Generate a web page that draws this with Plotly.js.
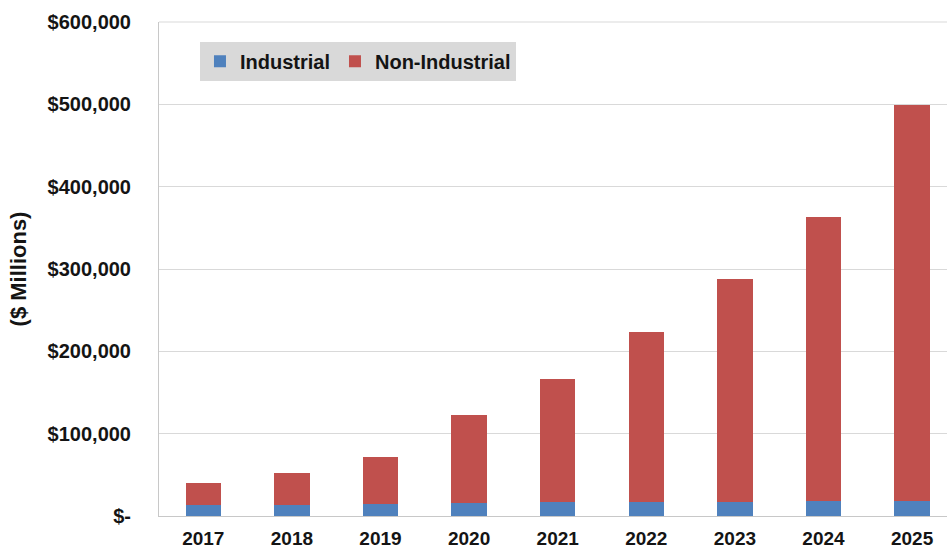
<!DOCTYPE html>
<html>
<head>
<meta charset="utf-8">
<script src="https://cdn.plot.ly/plotly-3.0.1.min.js"></script>
<style>html,body{margin:0;padding:0;background:#fff;}#chart{width:947px;height:551px;}</style>
</head>
<body>
<div id="chart"></div>
<script>
const years = ['2017','2018','2019','2020','2021','2022','2023','2024','2025'];
const industrial = [13500, 13500, 14000, 15500, 16500, 17000, 17500, 18000, 18500];
const nonIndustrial = [26000, 39000, 58000, 107000, 149500, 206000, 270500, 345000, 480500];
const yTickVals = [0, 100000, 200000, 300000, 400000, 500000, 600000];
const yTickText = ['$-', '$100,000', '$200,000', '$300,000', '$400,000', '$500,000', '$600,000'];

const fam = 'Liberation Sans, Arial, sans-serif';
const txt = '#141414';

const data = [
  {type: 'bar', name: 'Industrial', x: years, y: industrial, marker: {color: '#4f81bd'}},
  {type: 'bar', name: 'Non-Industrial', x: years, y: nonIndustrial, marker: {color: '#c0504d'}}
];

const layout = {
  width: 947, height: 551,
  margin: {l: 159, r: 0, t: 22, b: 35},
  barmode: 'stack',
  bargap: 0.6,
  paper_bgcolor: '#fff',
  plot_bgcolor: '#fff',
  font: {family: fam, color: txt},
  showlegend: true,
  legend: {
    orientation: 'h',
    x: 0.052, y: 0.96, xanchor: 'left', yanchor: 'top',
    bgcolor: '#d9d9d9',
    font: {family: fam, size: 20, color: txt, weight: 'bold'},
    itemwidth: 30,
    traceorder: 'normal'
  },
  xaxis: {
    type: 'category',
    range: [-0.5, 8.394],
    showline: true, linecolor: '#c8c8c8', linewidth: 1,
    showgrid: false,
    ticks: '',
    ticklabelstandoff: 5,
    tickfont: {family: fam, size: 19, color: txt, weight: 'bold'},
    fixedrange: true
  },
  yaxis: {
    range: [0, 600000],
    tickvals: yTickVals,
    ticktext: yTickText,
    showline: true, linecolor: '#c8c8c8', linewidth: 1,
    showgrid: true, gridcolor: '#d9d9d9', gridwidth: 1,
    zeroline: false,
    ticks: '',
    ticklabelstandoff: 23,
    tickfont: {family: fam, size: 20, color: txt, weight: 'bold'},
    title: {text: '($ Millions)', font: {family: fam, size: 22, color: txt, weight: 'bold'}, standoff: 14},
    automargin: false,
    fixedrange: true
  },
  shapes: [
    {type: 'line', xref: 'paper', yref: 'paper', x0: 0, x1: 1, y0: 1, y1: 1, line: {color: '#d9d9d9', width: 1}}
  ]
};

Plotly.newPlot('chart', data, layout, {displayModeBar: false, staticPlot: true});
</script>
</body>
</html>
